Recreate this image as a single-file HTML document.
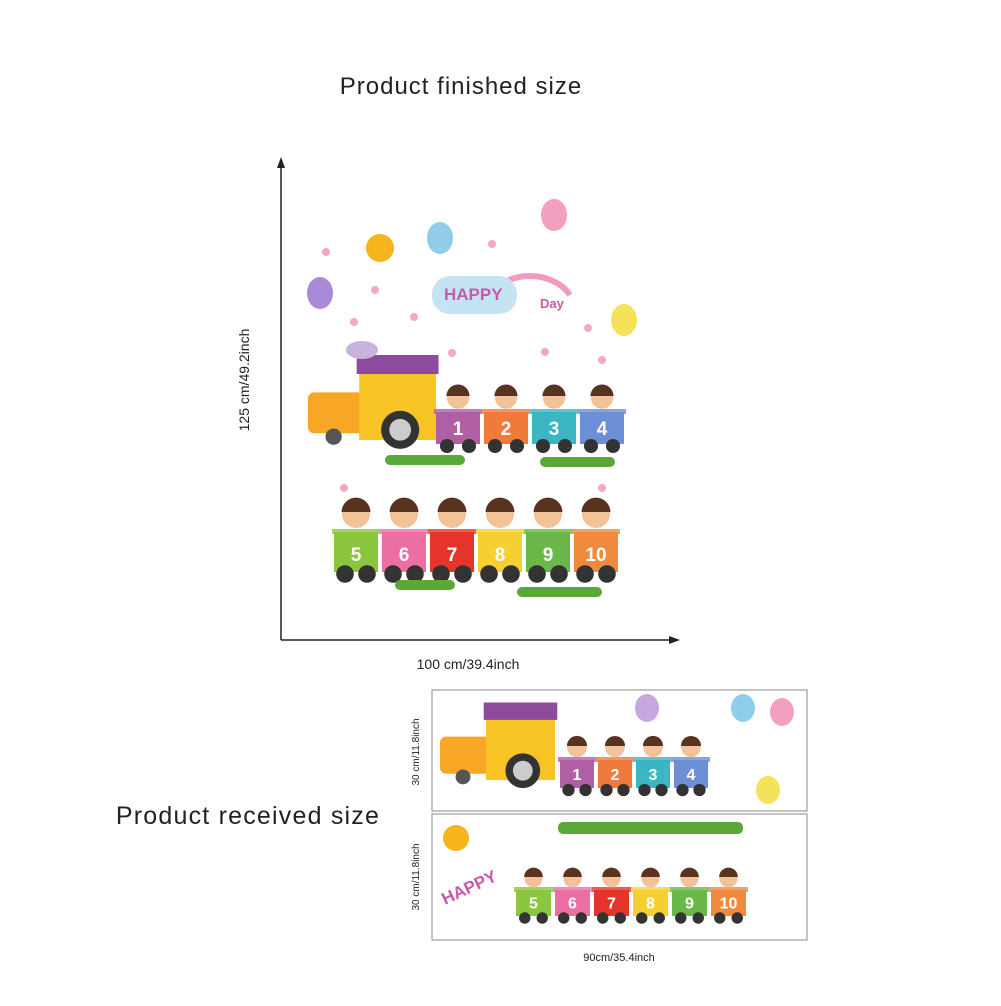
<!DOCTYPE html>
<html><head><meta charset="utf-8"><style>
body{margin:0;background:#fff;width:1001px;height:1001px;overflow:hidden;font-family:"Liberation Sans",sans-serif}
</style></head><body>
<svg width="1001" height="1001" viewBox="0 0 1001 1001">
<text x="461" y="94" font-size="24" letter-spacing="1" text-anchor="middle" fill="#222">Product finished size</text>
<g stroke="#222" stroke-width="1.5" fill="#222">
<line x1="281" y1="166" x2="281" y2="640"/><polygon points="281,157 277,168 285,168" stroke="none"/>
<line x1="281" y1="640" x2="672" y2="640"/><polygon points="680,640 669,636 669,644" stroke="none"/>
</g>
<text transform="translate(249,380) rotate(-90)" font-size="14" text-anchor="middle" fill="#222">125 cm/49.2inch</text>
<text x="468" y="669" font-size="14" text-anchor="middle" fill="#222">100 cm/39.4inch</text>

<g id="art"></g>

<text x="248" y="824" font-size="25" letter-spacing="1.2" text-anchor="middle" fill="#222">Product received size</text>
<rect x="432" y="690" width="375" height="121" fill="#fff" stroke="#888"/>
<rect x="432" y="814" width="375" height="126" fill="#fff" stroke="#888"/>
<text transform="translate(419,752) rotate(-90)" font-size="10" text-anchor="middle" fill="#222">30 cm/11.8inch</text>
<text transform="translate(419,877) rotate(-90)" font-size="10" text-anchor="middle" fill="#222">30 cm/11.8inch</text>
<text x="619" y="961" font-size="11" text-anchor="middle" fill="#222">90cm/35.4inch</text>
<g id="sheets"></g>
</svg>
<script>
const NS='http://www.w3.org/2000/svg';
function el(p,t,a,txt){const e=document.createElementNS(NS,t);for(const k in a)e.setAttribute(k,a[k]);if(txt!==undefined)e.textContent=txt;p.appendChild(e);return e;}
const art=document.getElementById('art'),sh=document.getElementById('sheets');
function car(g,x,y,w,h,c,n,fs){
 el(g,'rect',{x:x,y:y,width:w,height:h,fill:c});
 el(g,'rect',{x:x-2,y:y-3,width:w+4,height:5,fill:c,opacity:.8});
 el(g,'text',{x:x+w/2,y:y+h*0.72,'font-size':fs,'font-weight':'bold',fill:'#fff','text-anchor':'middle'},n);
 el(g,'circle',{cx:x+w*0.25,cy:y+h+2,r:h*0.22,fill:'#333'});
 el(g,'circle',{cx:x+w*0.75,cy:y+h+2,r:h*0.22,fill:'#333'});
 el(g,'circle',{cx:x+w/2,cy:y-h*0.45,r:h*0.35,fill:'#f2c29a'});
 el(g,'path',{d:`M${x+w/2-h*0.36} ${y-h*0.5} a${h*0.36} ${h*0.36} 0 0 1 ${h*0.72} 0z`,fill:'#5a3320'});
}
const topCol=['#b05fa5','#f07a3c','#3bb6c2','#6d8fd6'], botCol=['#8cc63f','#ec6fa4','#e5352b','#f5d033','#6ab84a','#f08a3e'];
function train(g,x0,y,w,h,cols,start,fs,engine){
 if(engine){
  el(g,'rect',{x:engine[0],y:engine[1]+engine[3]*0.3,width:engine[2]*0.45,height:engine[3]*0.6,rx:6,fill:'#f7a625'});
  el(g,'rect',{x:engine[0]+engine[2]*0.4,y:engine[1],width:engine[2]*0.6,height:engine[3],fill:'#f7c325'});
  el(g,'rect',{x:engine[0]+engine[2]*0.38,y:engine[1]-engine[3]*0.25,width:engine[2]*0.64,height:engine[3]*0.28,fill:'#8e4a9c'});
  el(g,'circle',{cx:engine[0]+engine[2]*0.72,cy:engine[1]+engine[3]*0.85,r:engine[3]*0.28,fill:'#333'});
  el(g,'circle',{cx:engine[0]+engine[2]*0.72,cy:engine[1]+engine[3]*0.85,r:engine[3]*0.16,fill:'#ccc'});
  el(g,'circle',{cx:engine[0]+engine[2]*0.2,cy:engine[1]+engine[3]*0.95,r:engine[3]*0.12,fill:'#555'});}
 cols.forEach((c,i)=>car(g,x0+i*(w+4),y,w,h,c,String(start+i),fs));
}
train(art,436,412,44,32,topCol,1,19,[308,372,128,68]);
train(art,334,532,44,40,botCol,5,19,null);
[[320,293,'#a98ad6'],[440,238,'#8fcdea'],[554,215,'#f3a0c0'],[624,320,'#f4e25a']].forEach(b=>el(art,'ellipse',{cx:b[0],cy:b[1],rx:13,ry:16,fill:b[2]}));
el(art,'circle',{cx:380,cy:248,r:14,fill:'#f6b51d'});
el(art,'path',{d:'M490 295 a45 35 0 0 1 80 0',fill:'none',stroke:'#f39ac0','stroke-width':6});
el(art,'rect',{x:432,y:276,width:85,height:38,rx:18,fill:'#c4e4f4'});
el(art,'text',{x:444,y:300,'font-size':17,'font-weight':'bold',fill:'#c858a8'},'HAPPY');
el(art,'text',{x:540,y:308,'font-size':13,'font-weight':'bold',fill:'#c858a8'},'Day');
el(art,'ellipse',{cx:362,cy:350,rx:16,ry:9,fill:'#c8b3de'});
[[326,252],[354,322],[414,317],[492,244],[588,328],[602,360],[452,353],[545,352],[344,488],[602,488],[375,290]].forEach(f=>el(art,'circle',{cx:f[0],cy:f[1],r:4,fill:'#f3a8c8'}));
[[385,455,80],[540,457,75],[395,580,60],[517,587,85]].forEach(g=>el(art,'rect',{x:g[0],y:g[1],width:g[2],height:10,rx:5,fill:'#5aa83a'}));
// sheets
train(sh,560,760,34,28,topCol,1,16,[440,718,115,62]);
train(sh,516,890,35,26,botCol,5,16,null);
el(sh,'rect',{x:558,y:822,width:185,height:12,rx:5,fill:'#5aa83a'});
el(sh,'circle',{cx:456,cy:838,r:13,fill:'#f6b51d'});
el(sh,'text',{x:445,y:905,'font-size':17,'font-weight':'bold',fill:'#c858a8',transform:'rotate(-25 445 905)'},'HAPPY');
[[647,708,'#c8a7e0'],[743,708,'#8fcdea'],[782,712,'#f3a0c0'],[768,790,'#f4e25a']].forEach(b=>el(sh,'ellipse',{cx:b[0],cy:b[1],rx:12,ry:14,fill:b[2]}));
</script>
</body></html>
